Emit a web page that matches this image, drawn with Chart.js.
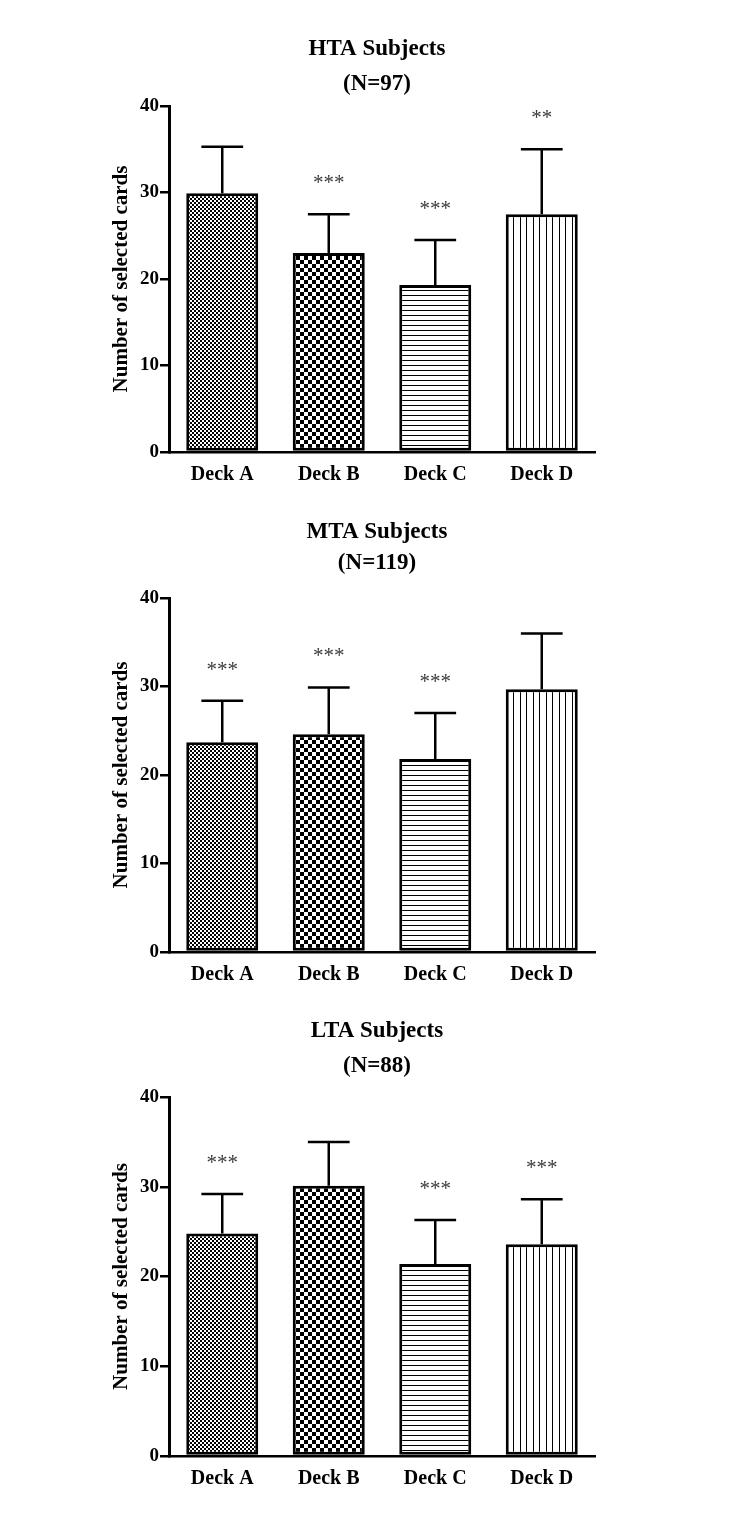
<!DOCTYPE html>
<html><head><meta charset="utf-8">
<script src="https://cdn.jsdelivr.net/npm/chart.js@4"></script>
<style>
html,body{margin:0;padding:0;background:#fff;width:754px;height:1519px;overflow:hidden}
canvas{position:absolute;left:0}
</style></head><body>
<canvas id="c1" width="754" height="500" style="top:0"></canvas>
<canvas id="c2" width="754" height="500" style="top:500px"></canvas>
<canvas id="c3" width="754" height="519" style="top:1000px"></canvas>
<script>
// ---- data ----
const categories = ['Deck A', 'Deck B', 'Deck C', 'Deck D'];
const yTicks = [0, 10, 20, 30, 40];
const yAxisTitle = 'Number of selected cards';

const htaTitle = ['HTA Subjects', '(N=97)'];
const htaMeans = [29.9, 23.0, 19.3, 27.5];
const htaSD    = [5.4, 4.5, 5.2, 7.5];
const htaStars = ['', '***', '***', '**'];

const mtaTitle = ['MTA Subjects', '(N=119)'];
const mtaMeans = [23.7, 24.6, 21.8, 29.7];
const mtaSD    = [4.7, 5.3, 5.2, 6.3];
const mtaStars = ['***', '***', '***', ''];

const ltaTitle = ['LTA Subjects', '(N=88)'];
const ltaMeans = [24.8, 30.1, 21.4, 23.6];
const ltaSD    = [4.4, 4.9, 4.9, 5.0];
const ltaStars = ['***', '', '***', '***'];

// ---- patterns ----
function tile(w, h, draw) {
  const c = document.createElement('canvas');
  c.width = w; c.height = h;
  const x = c.getContext('2d');
  x.fillStyle = '#fff'; x.fillRect(0, 0, w, h);
  x.fillStyle = '#000';
  draw(x);
  return document.createElement('canvas').getContext('2d').createPattern(c, 'repeat');
}
const patterns = [
  tile(4, 4, x => { x.fillRect(0, 0, 2, 2); x.fillRect(2, 2, 2, 2); }),
  tile(8, 8, x => { x.fillRect(0, 0, 4, 4); x.fillRect(4, 4, 4, 4); }),
  tile(1, 5, x => { x.fillRect(0, 0, 1, 1); }),
  tile(13, 1, x => { x.fillRect(0, 0, 1, 1); x.fillRect(6, 0, 1, 1); })
];

const FAM = '"Liberation Serif", "Times New Roman", serif';

const errorBars = {
  id: 'errorBars',
  afterDatasetsDraw(chart) {
    const ctx = chart.ctx;
    const meta = chart.getDatasetMeta(0);
    const ds = chart.data.datasets[0];
    const ys = chart.scales.y;
    ctx.save();
    ctx.strokeStyle = '#000';
    ctx.lineWidth = 2.5;
    meta.data.forEach((bar, i) => {
      const v = ds.data[i], e = ds.errors[i];
      const yBar = ys.getPixelForValue(v);
      const yTop = ys.getPixelForValue(v + e);
      const half = bar.width * 0.29;
      ctx.beginPath();
      ctx.moveTo(bar.x, yBar); ctx.lineTo(bar.x, yTop);
      ctx.moveTo(bar.x - half, yTop); ctx.lineTo(bar.x + half, yTop);
      ctx.stroke();
      const s = ds.stars[i];
      if (s) {
        ctx.fillStyle = '#3a3a3a';
        ctx.font = '21px ' + FAM;
        ctx.textAlign = 'center';
        ctx.textBaseline = 'alphabetic';
        ctx.fillText(s, bar.x, yTop - 25);
      }
    });
    ctx.restore();
  }
};

function makeChart(id, title, means, sds, stars, tp) {
  new Chart(document.getElementById(id), {
    type: 'bar',
    data: {
      labels: categories,
      datasets: [{
        data: means,
        errors: sds,
        stars: stars,
        backgroundColor: patterns,
        borderColor: '#000',
        borderWidth: 3,
        borderSkipped: false,
        barPercentage: 0.676,
        categoryPercentage: 1.0
      }]
    },
    options: {
      responsive: false,
      animation: false,
      devicePixelRatio: 1,
      layout: { padding: 0 },
      plugins: {
        legend: { display: false },
        tooltip: { enabled: false },
        title: {
          display: true,
          text: title,
          color: '#000',
          font: { family: FAM, size: 23, weight: 'bold', lineHeight: tp.lh / 23 },
          padding: { top: tp.top, bottom: tp.bottom }
        }
      },
      scales: {
        x: {
          offset: true,
          grid: { display: true, drawOnChartArea: false, drawTicks: false },
          border: { display: true, color: '#000', width: 2.5 },
          ticks: { color: '#000', font: { family: FAM, size: 20, weight: 'bold' }, padding: 11 },
          afterFit(s) { s.height = tp.xh; }
        },
        y: {
          min: 0, max: 40,
          afterBuildTicks(s) { s.ticks = yTicks.map(v => ({ value: v })); },
          ticks: { color: '#000', font: { family: FAM, size: 19, weight: 'bold' }, padding: 1 },
          grid: { display: true, drawOnChartArea: false, drawTicks: true, tickLength: 9, color: '#000', lineWidth: 2.5 },
          border: { display: true, color: '#000', width: 3 },
          title: {
            display: true, text: yAxisTitle, color: '#000',
            font: { family: FAM, size: 21, weight: 'bold', lineHeight: 1.2 },
            padding: { top: 109, bottom: 0 }
          },
          afterFit(s) { s.width = 169; }
        },
        y2: {
          type: 'linear', position: 'right', display: true,
          grid: { display: false }, border: { display: false }, ticks: { display: false },
          afterFit(s) { s.width = 159; }
        }
      }
    },
    plugins: [errorBars]
  });
}

makeChart('c1', htaTitle, htaMeans, htaSD, htaStars, { lh: 35, top: 31.5, bottom: 4.5, xh: 48 });
makeChart('c2', mtaTitle, mtaMeans, mtaSD, mtaStars, { lh: 31, top: 16.5, bottom: 19.5, xh: 48 });
makeChart('c3', ltaTitle, ltaMeans, ltaSD, ltaStars, { lh: 35, top: 13.5, bottom: 13.5, xh: 63 });
</script>
</body></html>
